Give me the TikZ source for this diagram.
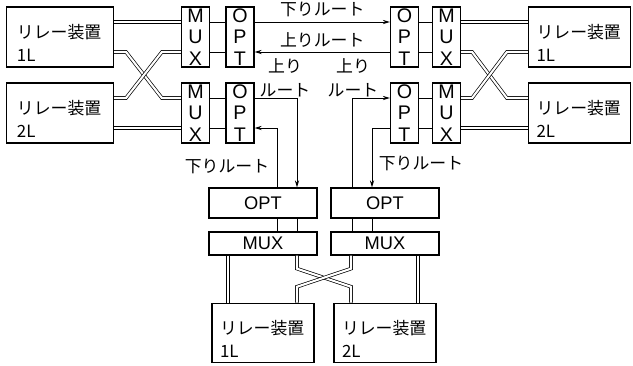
\documentclass[tikz,border=0pt]{standalone}
\usepackage{fontspec}
\setmainfont{Liberation Sans}
\newfontfamily\jp{Noto Sans CJK JP}
\usetikzlibrary{arrows.meta}
\tikzset{
  relay/.style = {rectangle, draw, line width=.9pt, minimum height=15mm, align=left, inner xsep=2.6mm, text width=21.5mm, text height=19pt, font=\jp\fontsize{12}{16.5}\selectfont},
  unit/.style  = {rectangle, draw, line width=.9pt, minimum width=7mm, minimum height=15mm, inner sep=0, align=center, font=\fontsize{14}{15.3}\selectfont},
  flat/.style  = {rectangle, draw, line width=.9pt, minimum width=27mm, inner sep=0, font=\fontsize{13}{14}\selectfont},
  dbl/.style   = {double, double distance=1.5pt, line width=.5pt},
  sig/.style   = {line width=.6pt},
  arr/.style   = {sig, -{Stealth[length=5pt, width=3pt]}},
  et/.style    = {font=\jp\fontsize{12}{17}\selectfont, align=center}
}

\begin{document}
\begin{tikzpicture}[x=.25mm, y=-.25mm]
  \useasboundingbox (0,0) rectangle (633,365);
  % upper row
  \node[relay]    (rL1) at (60,37)    {リレー装置\\1L};
  \node[relay]    (rL2) at (60,113)   {リレー装置\\2L};
  \node[unit] (mL1) at (195.5,37)  {M\\U\\X};
  \node[unit] (mL2) at (195.5,113) {M\\U\\X};
  \node[unit] (oL1) at (240,37)    {O\\P\\T};
  \node[unit] (oL2) at (240,113)   {O\\P\\T};
  \node[unit] (oR1) at (404.5,37)  {O\\P\\T};
  \node[unit] (oR2) at (404.5,113) {O\\P\\T};
  \node[unit] (mR1) at (446.5,37)  {M\\U\\X};
  \node[unit] (mR2) at (446.5,113) {M\\U\\X};
  \node[relay, inner xsep=2mm] (rR1) at (579.5,37)  {リレー装置\\1L};
  \node[relay, inner xsep=2mm] (rR2) at (579.5,113) {リレー装置\\2L};
  % lower column
  \node[flat, minimum height=7.5mm]  (oB1) at (263,203)   {OPT};
  \node[flat, minimum height=7.5mm]  (oB2) at (385,203)   {OPT};
  \node[flat, minimum height=5.75mm] (mB1) at (263,243.5) {MUX};
  \node[flat, minimum height=5.75mm] (mB2) at (385,243.5) {MUX};
  \node[relay, minimum height=14mm, inner xsep=2mm] (rB1) at (263,333) {リレー装置\\1L};
  \node[relay, minimum height=14mm, inner xsep=2mm] (rB2) at (385,333) {リレー装置\\2L};

  % relay -- MUX, left
  \draw[dbl] ([yshift=3.75mm]rL1.east) -- ([yshift=3.75mm]mL1.west);
  \draw[dbl] ([yshift=-3.75mm]rL2.east) -- ([yshift=-3.75mm]mL2.west);
  \draw[dbl] ([yshift=-3.75mm]rL1.east) -- ++(12,0) -- ([xshift=-4.75mm,yshift=3.75mm]mL2.west) -- ([yshift=3.75mm]mL2.west);
  \draw[dbl] ([yshift=3.75mm]rL2.east) -- ++(12,0) -- ([xshift=-4.75mm,yshift=-3.75mm]mL1.west) -- ([yshift=-3.75mm]mL1.west);
  % MUX -- relay, right
  \draw[dbl] ([yshift=3.75mm]mR1.east) -- ([yshift=3.75mm]rR1.west);
  \draw[dbl] ([yshift=-3.75mm]mR2.east) -- ([yshift=-3.75mm]rR2.west);
  \draw[dbl] ([yshift=-3.75mm]mR1.east) -- ++(11,0) -- ([xshift=-5.25mm,yshift=3.75mm]rR2.west) -- ([yshift=3.75mm]rR2.west);
  \draw[dbl] ([yshift=3.75mm]mR2.east) -- ++(11,0) -- ([xshift=-5.25mm,yshift=-3.75mm]rR1.west) -- ([yshift=-3.75mm]rR1.west);

  % MUX -- OPT
  \draw[sig] ([yshift=3.75mm]mL1.east) -- ([yshift=3.75mm]oL1.west);
  \draw[sig] ([yshift=-3.75mm]mL1.east) -- ([yshift=-3.75mm]oL1.west);
  \draw[sig] ([yshift=3.75mm]mL2.east) -- ([yshift=3.75mm]oL2.west);
  \draw[sig] ([yshift=-3.75mm]mL2.east) -- ([yshift=-3.75mm]oL2.west);
  \draw[sig] ([yshift=3.75mm]oR1.east) -- ([yshift=3.75mm]mR1.west);
  \draw[sig] ([yshift=-3.75mm]oR1.east) -- ([yshift=-3.75mm]mR1.west);
  \draw[sig] ([yshift=3.75mm]oR2.east) -- ([yshift=3.75mm]mR2.west);
  \draw[sig] ([yshift=-3.75mm]oR2.east) -- ([yshift=-3.75mm]mR2.west);

  % optical routes
  \draw[arr] ([yshift=3.75mm]oL1.east) -- ([yshift=3.75mm]oR1.west) node[et, midway, above] (dn) {下りルート};
  \draw[arr] ([yshift=-3.75mm]oR1.west) -- ([yshift=-3.75mm]oL1.east) node[et, midway, above] (up) {上りルート};
  \draw[arr] ([yshift=3.75mm]oL2.east) -| ([xshift=8.5mm]oB1.north);
  \draw[arr] ([xshift=3.5mm]oB1.north) |- ([yshift=-3.75mm]oL2.east);
  \draw[arr] ([xshift=-8.25mm]oB2.north) |- ([yshift=3.75mm]oR2.west);
  \draw[arr] ([yshift=-3.75mm]oR2.west) -| ([xshift=-3.25mm]oB2.north);
  \node[et] (upL) at (285,78)  {上り\\ルート};
  \node[et] (upR) at (353,78)  {上り\\ルート};
  \node[et] (dnL) at (227,166) {下りルート};
  \node[et] (dnR) at (421,163) {下りルート};

  % OPT -- MUX, lower
  \draw[sig] ([xshift=3.5mm]oB1.south) -- ([xshift=3.5mm]mB1.north);
  \draw[sig] ([xshift=8.5mm]oB1.south) -- ([xshift=8.5mm]mB1.north);
  \draw[sig] ([xshift=-8.25mm]oB2.south) -- ([xshift=-8.25mm]mB2.north);
  \draw[sig] ([xshift=-3.25mm]oB2.south) -- ([xshift=-3.25mm]mB2.north);
  % MUX -- relay, lower
  \draw[dbl] ([xshift=-8.75mm]mB1.south) -- ([xshift=-8.75mm]rB1.north);
  \draw[dbl] ([xshift=8.25mm]mB2.south) -- ([xshift=8.25mm]rB2.north);
  \draw[dbl] ([xshift=8.5mm]mB1.south) -- ++(0,13) -- ([xshift=-8.5mm,yshift=4mm]rB2.north) -- ([xshift=-8.5mm]rB2.north);
  \draw[dbl] ([xshift=-8.5mm]mB2.south) -- ++(0,13) -- ([xshift=8.5mm,yshift=4mm]rB1.north) -- ([xshift=8.5mm]rB1.north);
\end{tikzpicture}
\end{document}
